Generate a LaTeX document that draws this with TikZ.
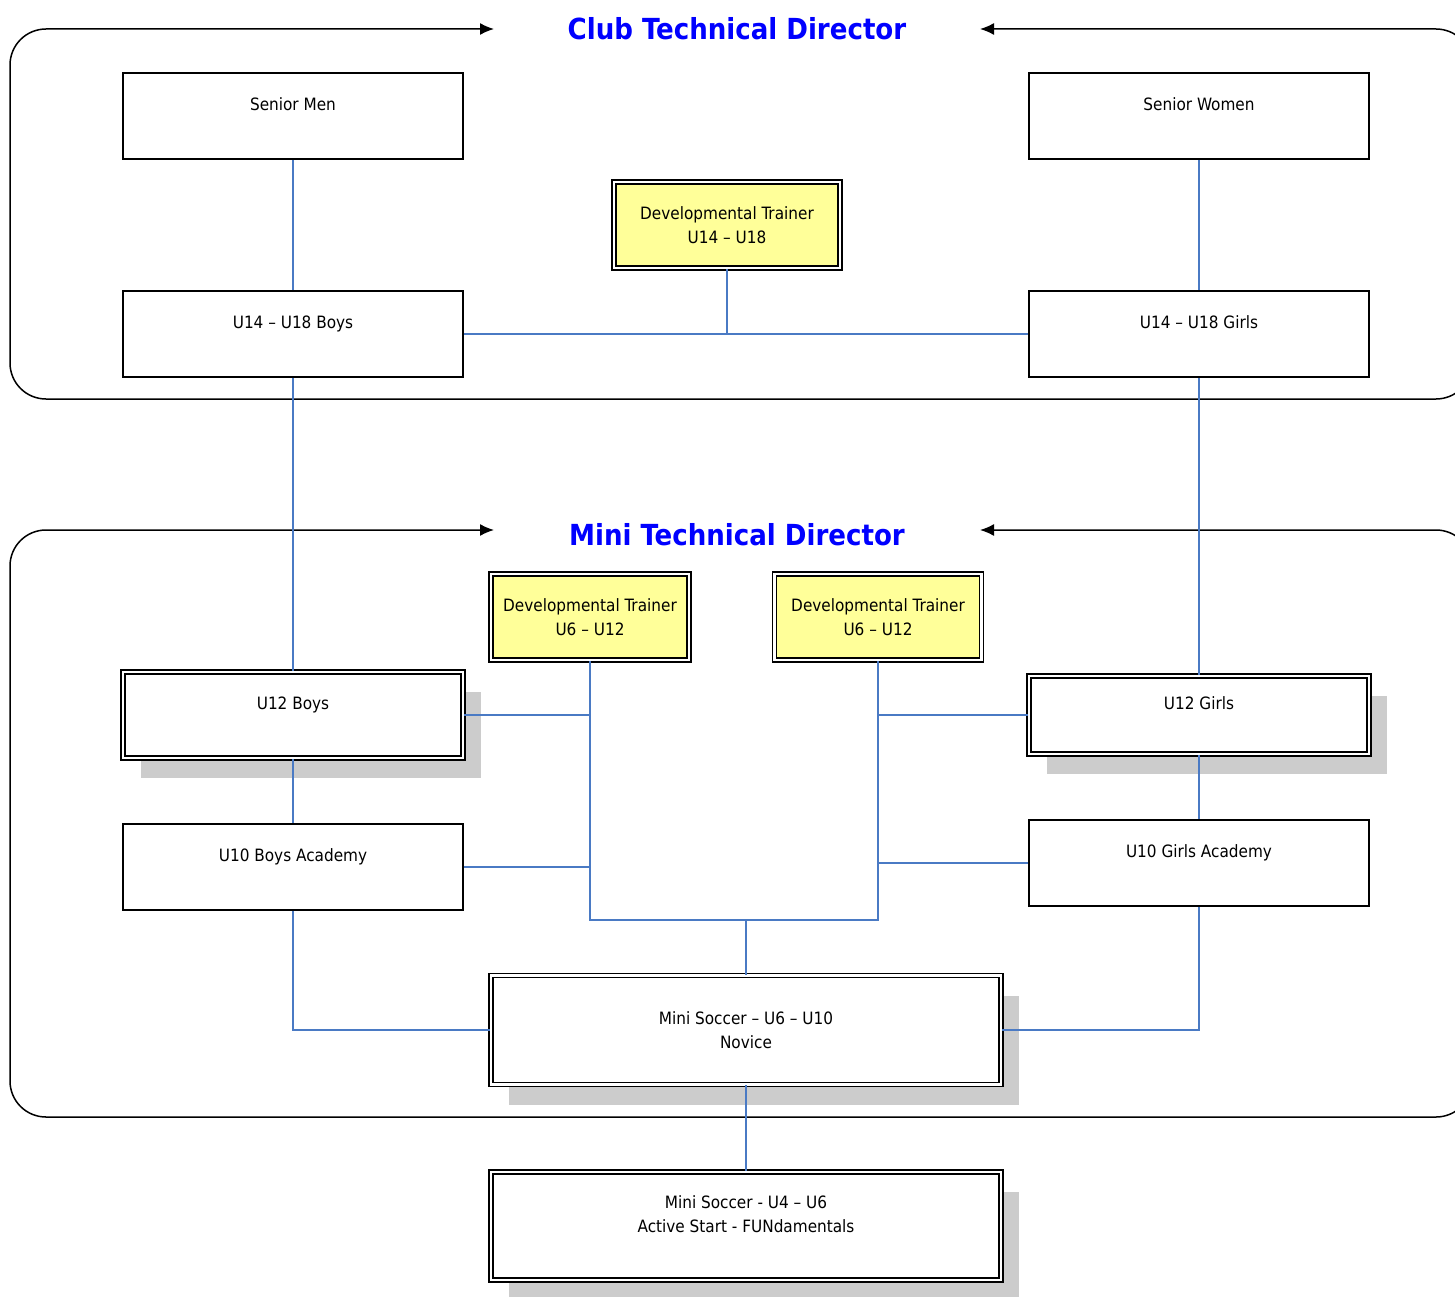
\documentclass[tikz,border=0pt]{standalone}
\usepackage{fontspec}
\setmainfont{DejaVu Sans Condensed}
\usetikzlibrary{arrows.meta,shadows}
\definecolor{linkblue}{RGB}{74,122,196}
\definecolor{titleblue}{RGB}{0,0,255}
\definecolor{trainer}{RGB}{255,255,153}

\begin{document}
\begin{tikzpicture}[x=1pt, y=-1pt,
	box/.style={draw, line width=1.6pt, rectangle, fill=white, align=center, inner sep=0pt,
		font=\fontsize{17}{24}\selectfont, minimum width=340pt, minimum height=86pt},
	dbox/.style={box, double, double distance=2.4pt, line width=1.5pt},
	tbox/.style={dbox, fill=trainer},
	shade/.style={general shadow={shadow xshift=18pt, shadow yshift=-20pt, fill=black!20}},
	frame/.style={draw, line width=1.5pt, rounded corners=36pt, {Latex[length=14pt,width=12pt]}-{Latex[length=14pt,width=12pt]}},
	title/.style={text=titleblue, font=\fontsize{29}{34}\bfseries\selectfont},
	link/.style={draw=linkblue, line width=1.3pt}]
		\clip (0,0) rectangle (1455,1297);

		\draw[frame] (980,29) -- (1472,29) -- (1472,399) -- (10,399) -- (10,29) -- (494,29);
		\draw[frame] (980,530) -- (1472,530) -- (1472,1117) -- (10,1117) -- (10,530) -- (494,530);

		\path (737,29) node[title] (ctd) {Club Technical Director}
		(737,535) node[title] (mtd) {Mini Technical Director};

		\path (293,116) node[box] (sm) {Senior Men\\~}
		(1199,116) node[box] (sw) {Senior Women\\~}
		(727,225) node[tbox, minimum width=226pt] (dt1) {Developmental Trainer\\U14 – U18}
		(293,334) node[box] (b18) {U14 – U18 Boys\\~}
		(1199,334) node[box] (g18) {U14 – U18 Girls\\~}
		(590,617) node[tbox, minimum width=198pt] (dt2) {Developmental Trainer\\U6 – U12}
		(878,617) node[tbox, minimum width=207pt] (dt3) {Developmental Trainer\\U6 – U12}
		(293,715) node[dbox, shade] (b12) {U12 Boys\\~}
		(1199,715) node[dbox, shade, minimum height=78pt] (g12) {U12 Girls\\~}
		(293,867) node[box] (b10) {U10 Boys Academy\\~}
		(1199,863) node[box] (g10) {U10 Girls Academy\\~}
		(746,1030) node[dbox, shade, minimum width=510pt, minimum height=109pt] (ms6) {Mini Soccer – U6 – U10\\Novice}
		(746,1226) node[dbox, shade, minimum width=510pt, minimum height=108pt] (ms4) {Mini Soccer - U4 – U6\\Active Start - FUNdamentals\\~};

		\coordinate (hub) at (746,920);

		\draw[link] (sm) -- (b18)
		(sw) -- (g18)
		(b18) -- (g18)
		(dt1) -- (dt1 |- b18)
		(b18) -- (b12)
		(g18) -- (g12)
		(b12) -- (b10)
		(g12) -- (g10)
		(dt2) |- (hub)
		(dt3) |- (hub)
		(hub) -- (ms6)
		(b12) -- (b12 -| dt2)
		(b10) -- (b10 -| dt2)
		(g12) -- (g12 -| dt3)
		(g10) -- (g10 -| dt3)
		(b10) |- (ms6)
		(g10) |- (ms6)
		(ms6) -- (ms4);
	\end{tikzpicture}
\end{document}
